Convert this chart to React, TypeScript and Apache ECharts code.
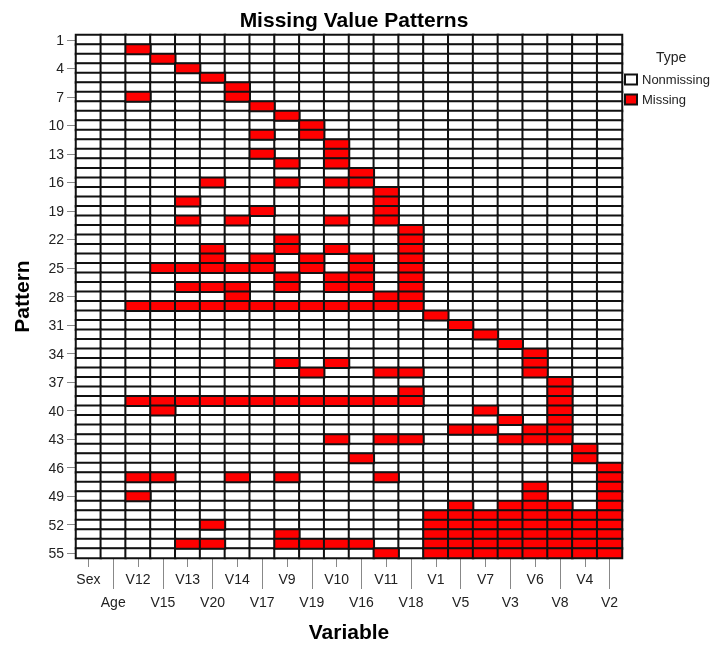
import React, { useEffect, useRef } from 'react';
import * as echarts from 'echarts';

const variables = ['Sex', 'Age', 'V12', 'V15', 'V13', 'V20', 'V14', 'V17', 'V9', 'V19', 'V10', 'V16', 'V11', 'V18', 'V1', 'V5', 'V7', 'V3', 'V6', 'V8', 'V4', 'V2'];

const patterns = ['1','2','3','4','5','6','7','8','9','10','11','12','13','14','15','16','17','18','19','20','21','22','23','24','25','26','27','28','29','30','31','32','33','34','35','36','37','38','39','40','41','42','43','44','45','46','47','48','49','50','51','52','53','54','55'];

const missingByPattern: string[][] = [
  [],
  ['V12'],
  ['V15'],
  ['V13'],
  ['V20'],
  ['V14'],
  ['V12', 'V14'],
  ['V17'],
  ['V9'],
  ['V19'],
  ['V17', 'V19'],
  ['V10'],
  ['V17', 'V10'],
  ['V9', 'V10'],
  ['V16'],
  ['V20', 'V9', 'V10', 'V16'],
  ['V11'],
  ['V13', 'V11'],
  ['V17', 'V11'],
  ['V13', 'V14', 'V10', 'V11'],
  ['V18'],
  ['V9', 'V18'],
  ['V20', 'V9', 'V10', 'V18'],
  ['V20', 'V17', 'V19', 'V16', 'V18'],
  ['V15', 'V13', 'V20', 'V14', 'V17', 'V19', 'V16', 'V18'],
  ['V9', 'V10', 'V16', 'V18'],
  ['V13', 'V20', 'V14', 'V9', 'V10', 'V16', 'V18'],
  ['V14', 'V11', 'V18'],
  ['V12', 'V15', 'V13', 'V20', 'V14', 'V17', 'V9', 'V19', 'V10', 'V16', 'V11', 'V18'],
  ['V1'],
  ['V5'],
  ['V7'],
  ['V3'],
  ['V6'],
  ['V9', 'V10', 'V6'],
  ['V19', 'V11', 'V18', 'V6'],
  ['V8'],
  ['V18', 'V8'],
  ['V12', 'V15', 'V13', 'V20', 'V14', 'V17', 'V9', 'V19', 'V10', 'V16', 'V11', 'V18', 'V8'],
  ['V15', 'V7', 'V8'],
  ['V3', 'V8'],
  ['V5', 'V7', 'V6', 'V8'],
  ['V10', 'V11', 'V18', 'V3', 'V6', 'V8'],
  ['V4'],
  ['V16', 'V4'],
  ['V2'],
  ['V12', 'V15', 'V14', 'V9', 'V11', 'V2'],
  ['V6', 'V2'],
  ['V12', 'V6', 'V2'],
  ['V5', 'V3', 'V6', 'V8', 'V2'],
  ['V1', 'V5', 'V7', 'V3', 'V6', 'V8', 'V4', 'V2'],
  ['V20', 'V1', 'V5', 'V7', 'V3', 'V6', 'V8', 'V4', 'V2'],
  ['V9', 'V1', 'V5', 'V7', 'V3', 'V6', 'V8', 'V4', 'V2'],
  ['V13', 'V20', 'V9', 'V19', 'V10', 'V16', 'V1', 'V5', 'V7', 'V3', 'V6', 'V8', 'V4', 'V2'],
  ['V11', 'V1', 'V5', 'V7', 'V3', 'V6', 'V8', 'V4', 'V2'],
];

const typeLabels = ['Nonmissing', 'Missing'];
const typeColors = ['#ffffff', '#ff0000'];

export default function App() {
  const ref = useRef<HTMLDivElement>(null);
  useEffect(() => {
    if (!ref.current) return;
    const chart = echarts.init(ref.current, undefined, { renderer: 'svg' });
    const nonMissing: number[][] = [];
    const missing: number[][] = [];
    missingByPattern.forEach((miss, r) => {
      variables.forEach((v, c) => {
        if (miss.includes(v)) missing.push([c, r, 1]);
        else nonMissing.push([c, r, 0]);
      });
    });
    const font = 'Arial, "Liberation Sans", sans-serif';
    const cellStyle = (color: string) => ({ color, borderColor: '#111', borderWidth: 2 });
    chart.setOption({
      animation: false,
      textStyle: { fontFamily: font },
      title: [
        {
          text: 'Missing Value Patterns', left: 349, top: 4, textAlign: 'center',
          textStyle: { fontSize: 21, fontWeight: 'bold', color: '#000', fontFamily: font },
        },
        {
          text: 'Type', left: 651, top: 45,
          textStyle: { fontSize: 14, fontWeight: 'normal', color: '#222', fontFamily: font },
        },
      ],
      visualMap: {
        type: 'piecewise', show: false, seriesIndex: [0, 1], dimension: 2,
        pieces: [
          { value: 0, color: typeColors[0] },
          { value: 1, color: typeColors[1] },
        ],
      },
      legend: {
        orient: 'vertical', left: 624, top: 73, padding: 0, icon: 'rect',
        itemWidth: 12, itemHeight: 10, itemGap: 7, selectedMode: false,
        data: typeLabels,
        textStyle: { fontSize: 13, color: '#222', fontFamily: font },
      },
      grid: { left: 76, top: 35, right: 93, bottom: 87 },
      xAxis: [
        {
          type: 'category', data: variables, position: 'bottom',
          axisLine: { show: true, lineStyle: { color: '#111', width: 2 } },
          axisTick: { show: true, alignWithLabel: true, length: 9, interval: (i: number) => i % 2 === 0, lineStyle: { color: '#888' } },
          axisLabel: { interval: (i: number) => i % 2 === 0, margin: 14, fontSize: 14, color: '#222' },
          splitLine: { show: false },
          name: 'Variable', nameLocation: 'middle', nameGap: 63,
          nameTextStyle: { fontSize: 21, fontWeight: 'bold', color: '#000' },
        },
        {
          type: 'category', data: variables, position: 'bottom', offset: 0,
          axisLine: { show: false },
          axisTick: { show: true, alignWithLabel: true, length: 31, interval: (i: number) => i % 2 === 1, lineStyle: { color: '#888' } },
          axisLabel: { interval: (i: number) => i % 2 === 1, margin: 37, fontSize: 14, color: '#222' },
          splitLine: { show: false },
        },
      ],
      yAxis: {
        type: 'category', data: patterns, inverse: true,
        axisLine: { show: true, lineStyle: { color: '#111', width: 2 } },
        axisTick: { show: true, alignWithLabel: true, interval: 2, length: 9, lineStyle: { color: '#888' } },
        axisLabel: { interval: 2, margin: 12, fontSize: 14, color: '#222' },
        splitLine: { show: false },
        name: 'Pattern', nameLocation: 'middle', nameGap: 44, nameRotate: 90,
        nameTextStyle: { fontSize: 21, fontWeight: 'bold', color: '#000' },
      },
      series: [
        {
          type: 'heatmap', name: typeLabels[0], data: nonMissing,
          itemStyle: cellStyle(typeColors[0]), emphasis: { disabled: true },
        },
        {
          type: 'heatmap', name: typeLabels[1], data: missing,
          itemStyle: cellStyle(typeColors[1]), emphasis: { disabled: true },
        },
      ],
    });
    return () => chart.dispose();
  }, []);
  return <div ref={ref} style={{ position: 'fixed', left: 0, top: 0, width: 715, height: 647 }} />;
}
